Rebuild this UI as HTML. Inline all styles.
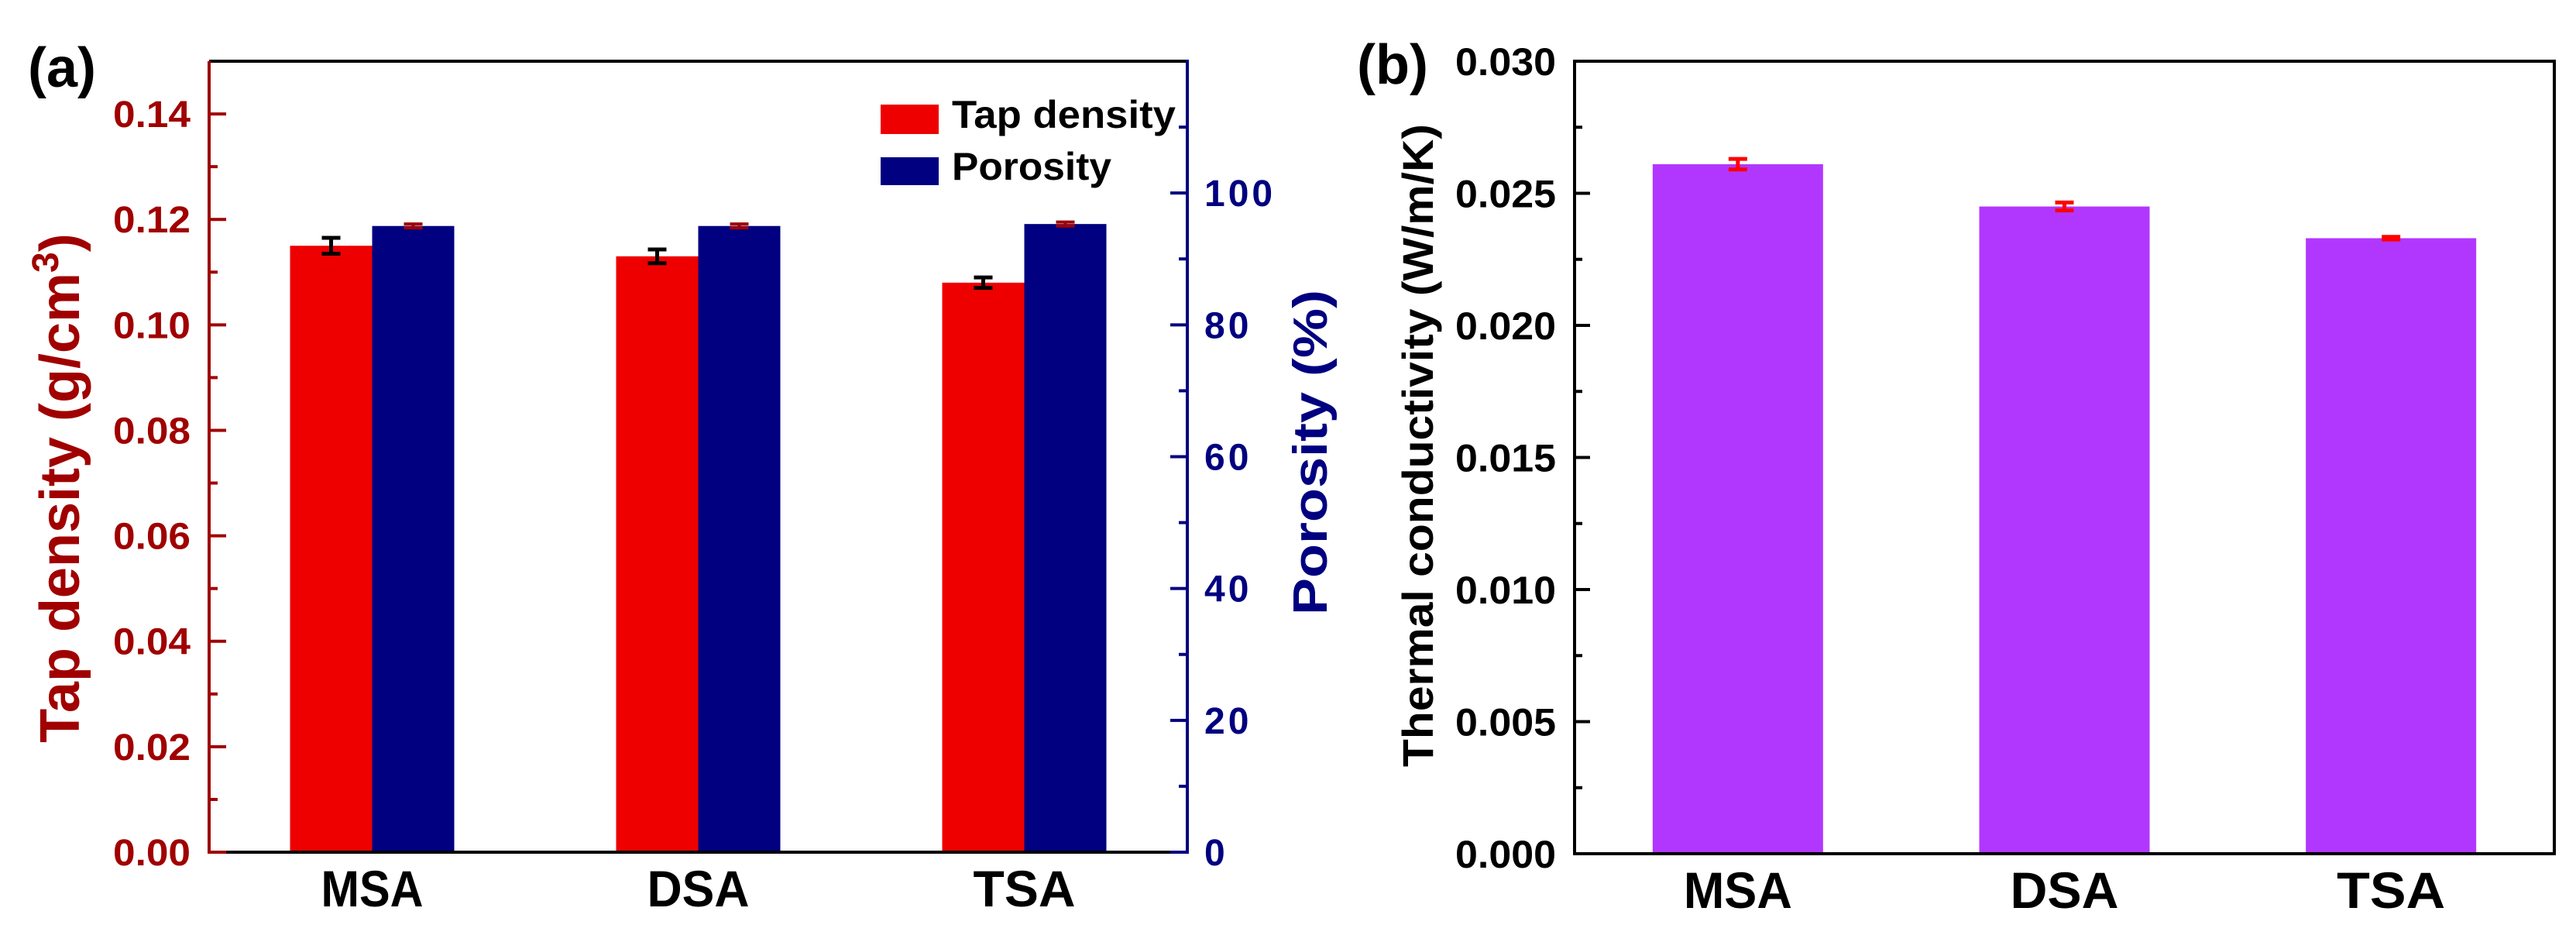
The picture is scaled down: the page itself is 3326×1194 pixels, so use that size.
<!DOCTYPE html>
<html><head><meta charset="utf-8"><style>
html,body{margin:0;padding:0;background:#fff;}
svg{display:block;}
text{font-family:"Liberation Sans",Arial,sans-serif;font-weight:bold;}
</style></head><body>
<svg id="fig" width="3326" height="1194" viewBox="0 0 3326 1194" xmlns="http://www.w3.org/2000/svg">
<g id="a"></g>
<g id="b"></g>
</svg>
<script>
const categories = ["MSA","DSA","TSA"];
const tapDensity = [0.115, 0.113, 0.108];
const tapDensityErr = [0.0015, 0.0013, 0.0010];
const porosity = [95.0, 95.0, 95.3];
const porosityErr = [0.3, 0.3, 0.3];
const leftTicks = [0, 0.02, 0.04, 0.06, 0.08, 0.10, 0.12, 0.14];
const leftTickLabels = ["0.00","0.02","0.04","0.06","0.08","0.10","0.12","0.14"];
const poroTicks = [0, 20, 40, 60, 80, 100];
const poroTickLabels = ["0","20","40","60","80","100"];
const conductivity = [0.0261, 0.0245, 0.0233];
const conductivityErr = [0.0002, 0.00015, 0.00005];
const condTicks = [0, 0.005, 0.010, 0.015, 0.020, 0.025, 0.030];
const condTickLabels = ["0.000","0.005","0.010","0.015","0.020","0.025","0.030"];

const NS = "http://www.w3.org/2000/svg";
function mk(parent, tag, attrs, txt){
  const e = document.createElementNS(NS, tag);
  for (const k in attrs) e.setAttribute(k, attrs[k]);
  if (txt !== undefined) e.textContent = txt;
  parent.appendChild(e);
  return e;
}
const A = document.getElementById('a');
const B = document.getElementById('b');
const DR = "#a00000", NV = "#000080";

// ---- Panel A ----
const aL = 270, aR = 1533, aT = 79, aB = 1100;
const yL = v => aB - (v / 0.15) * (aB - aT);
const yP = v => aB - (v / 120) * (aB - aT);
const xA = i => aL + (aR - aL) * (i + 0.5) / categories.length;
const bw = 106;

categories.forEach((c, i) => {
  const cx = xA(i);
  let r = mk(A, 'rect', {x: cx - bw, y: yL(tapDensity[i]), width: bw, height: aB - yL(tapDensity[i]), fill: "#ee0000"});
  
  
  let p = mk(A, 'rect', {x: cx, y: yP(porosity[i]), width: bw, height: aB - yP(porosity[i]), fill: "#000080"});
  
  
  const ex = cx - bw / 2;
  const y1 = yL(tapDensity[i] + tapDensityErr[i]), y2 = yL(tapDensity[i] - tapDensityErr[i]);
  let eb = mk(A, 'path', {d: `M${ex},${y1}V${y2}M${ex-12},${y1}H${ex+12}M${ex-12},${y2}H${ex+12}`, stroke: "#000", 'stroke-width': 5, fill: "none"});
  
  
  const px = cx + bw / 2;
  const q1 = yP(porosity[i] + porosityErr[i]), q2 = yP(porosity[i] - porosityErr[i]);
  let pe = mk(A, 'path', {d: `M${px},${q1}V${q2}M${px-12},${q1}H${px+12}M${px-12},${q2}H${px+12}`, stroke: DR, 'stroke-width': 4, fill: "none"});
  
  
  let xl = mk(A, 'text', {x: cx, y: 1170, 'font-size': 66, 'text-anchor': 'middle', fill: "#000", textLength: 132, lengthAdjust: "spacingAndGlyphs"}, c);
  
  
});
mk(A, 'line', {x1: aL, y1: aT, x2: aR, y2: aT, stroke: "#000", 'stroke-width': 4});
mk(A, 'line', {x1: aL, y1: aB, x2: aR, y2: aB, stroke: "#000", 'stroke-width': 4});
let la = mk(A, 'line', {x1: aL, y1: aT, x2: aL, y2: aB + 2, stroke: DR, 'stroke-width': 4});


let ra = mk(A, 'line', {x1: aR, y1: aT - 2, x2: aR, y2: aB + 2, stroke: NV, 'stroke-width': 4});


leftTicks.forEach((v, i) => {
  const y = yL(v);
  mk(A, 'line', {x1: aL, y1: y, x2: aL + 22, y2: y, stroke: DR, 'stroke-width': 4});
  if (i < leftTicks.length - 1) { const ym = yL(v + 0.01); mk(A, 'line', {x1: aL, y1: ym, x2: aL + 11, y2: ym, stroke: DR, 'stroke-width': 4}); }
  let t = mk(A, 'text', {x: 246, y: y + 17, 'font-size': 48, 'text-anchor': 'end', fill: DR, textLength: 100, lengthAdjust: "spacingAndGlyphs"}, leftTickLabels[i]);
  
  
});
poroTicks.forEach((v, i) => {
  const y = yP(v);
  mk(A, 'line', {x1: aR, y1: y, x2: aR - 22, y2: y, stroke: NV, 'stroke-width': 4});
  const ym = yP(v + 10); mk(A, 'line', {x1: aR, y1: ym, x2: aR - 11, y2: ym, stroke: NV, 'stroke-width': 4});
  let t = mk(A, 'text', {x: 1555, y: y + 17, 'font-size': 48, 'text-anchor': 'start', fill: NV, 'letter-spacing': 4}, poroTickLabels[i]);
  
  
});
</script>
<script>
(function(){
  const A = document.getElementById('a');
  const NS = "http://www.w3.org/2000/svg";
  function mk(parent, tag, attrs, txt){ const e = document.createElementNS(NS, tag); for (const k in attrs) e.setAttribute(k, attrs[k]); if (txt !== undefined) e.textContent = txt; parent.appendChild(e); return e; }
  let pa = mk(A, 'text', {x: 36, y: 112, 'font-size': 72, fill: "#000"}, "(a)");
  
  
  let lt = mk(A, 'text', {x: 0, y: 0, 'font-size': 72, fill: "#a00000", 'text-anchor': 'middle', transform: "translate(102,630) rotate(-90)"});
  
  
  lt.innerHTML = 'Tap density (g/cm<tspan dy="-27" font-size="48">3</tspan><tspan dy="27">)</tspan>';
  let rt = mk(A, 'text', {x: 0, y: 0, 'font-size': 62, fill: "#000080", 'text-anchor': 'middle', transform: "translate(1713,584) rotate(-90)", textLength: 420, lengthAdjust: "spacingAndGlyphs"}, "Porosity (%)");
  
  
  let g = mk(A, 'g', {});
  
  
  mk(g, 'rect', {x: 1137, y: 135, width: 75, height: 38, fill: "#ee0000"});
  mk(g, 'rect', {x: 1137, y: 203, width: 75, height: 36, fill: "#000080"});
  let t1 = mk(g, 'text', {x: 1229, y: 165, 'font-size': 50, fill: "#000", textLength: 289, lengthAdjust: "spacingAndGlyphs"}, "Tap density");
  
  
  let t2 = mk(g, 'text', {x: 1229, y: 232, 'font-size': 50, fill: "#000", textLength: 206, lengthAdjust: "spacingAndGlyphs"}, "Porosity");
  
  

  // ---- Panel B ----
  const B = document.getElementById('b');
  const bL = 2033, bR = 3298, bT = 79, bB = 1102;
  const yC = v => bB - (v / 0.03) * (bB - bT);
  const xB = i => bL + (bR - bL) * (i + 0.5) / categories.length;
  const w = 220;
  categories.forEach((c, i) => {
    const cx = xB(i);
    let r = mk(B, 'rect', {x: cx - w/2, y: yC(conductivity[i]), width: w, height: bB - yC(conductivity[i]), fill: "#b237fe"});
    
    
    const y1 = yC(conductivity[i] + conductivityErr[i]), y2 = yC(conductivity[i] - conductivityErr[i]);
    let e = mk(B, 'path', {d: `M${cx},${y1}V${y2}M${cx-12},${y1}H${cx+12}M${cx-12},${y2}H${cx+12}`, stroke: "#ff0000", 'stroke-width': 5, fill: "none"});
    
    
    let xl = mk(B, 'text', {x: cx, y: 1172, 'font-size': 66, 'text-anchor': 'middle', fill: "#000", textLength: 140, lengthAdjust: "spacingAndGlyphs"}, c);
    
    
  });
  let fr = mk(B, 'rect', {x: bL, y: bT, width: bR - bL, height: bB - bT, fill: "none", stroke: "#000", 'stroke-width': 4});
  
  
  condTicks.forEach((v, i) => {
    const y = yC(v);
    mk(B, 'line', {x1: bL, y1: y, x2: bL + 20, y2: y, stroke: "#000", 'stroke-width': 4});
    if (i < condTicks.length - 1) { const ym = yC(v + 0.0025); mk(B, 'line', {x1: bL, y1: ym, x2: bL + 10, y2: ym, stroke: "#000", 'stroke-width': 4}); }
    let t = mk(B, 'text', {x: 2009, y: y + 18, 'font-size': 50, 'text-anchor': 'end', fill: "#000", textLength: 130, lengthAdjust: "spacingAndGlyphs"}, condTickLabels[i]);
    
    
  });
  let pb = mk(B, 'text', {x: 1752, y: 108, 'font-size': 72, fill: "#000"}, "(b)");
  
  
  let yt = mk(B, 'text', {x: 0, y: 0, 'font-size': 56, fill: "#000", 'text-anchor': 'middle', transform: "translate(1850,575) rotate(-90)", textLength: 830, lengthAdjust: "spacingAndGlyphs"}, "Thermal conductivity  (W/m/K)");
  
  
})();
</script>
</body></html>
